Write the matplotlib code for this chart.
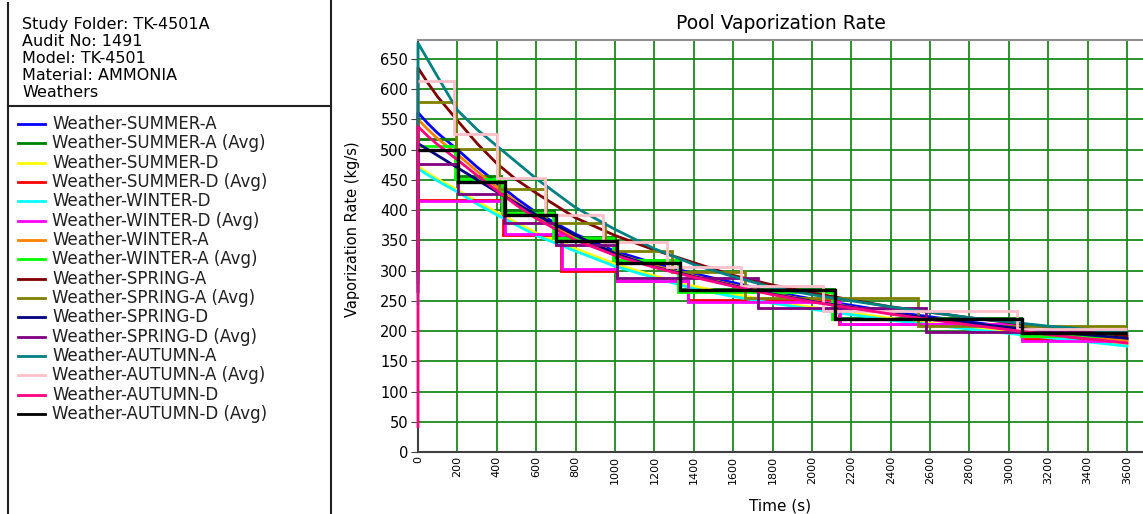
import matplotlib
matplotlib.use('Agg')
import matplotlib.pyplot as plt

plt.rcParams['font.family'] = 'DejaVu Sans'

# header of the side panel
header = ["Study Folder: TK-4501A", "Audit No: 1491", "Model: TK-4501",
          "Material: AMMONIA", "Weathers"]

labels = ["Weather-SUMMER-A", "Weather-SUMMER-A (Avg)",
          "Weather-SUMMER-D", "Weather-SUMMER-D (Avg)",
          "Weather-WINTER-D", "Weather-WINTER-D (Avg)",
          "Weather-WINTER-A", "Weather-WINTER-A (Avg)",
          "Weather-SPRING-A", "Weather-SPRING-A (Avg)",
          "Weather-SPRING-D", "Weather-SPRING-D (Avg)",
          "Weather-AUTUMN-A", "Weather-AUTUMN-A (Avg)",
          "Weather-AUTUMN-D", "Weather-AUTUMN-D (Avg)"]
colors = ['#0000FF', '#008000', '#FFFF00', '#FF0000', '#00FFFF', '#FF00FF',
          '#FF8000', '#00FF00', '#800000', '#808000', '#000080', '#800080',
          '#008080', '#FFC0CB', '#FF0080', '#000000']

# continuous curves (kg/s) read at these times (s)
curve_t = [0, 50, 100, 200, 300, 400, 500, 600, 800, 1000, 1200, 1400, 1600,
           1800, 2000, 2400, 2800, 3200, 3600]
summer_a = [561, 543, 527, 500, 471, 445, 419, 396, 360, 332, 312, 295, 280, 265, 253, 232, 215, 199, 186]
summer_d = [472, 461, 451, 433, 414, 396, 379, 362, 336, 311, 291, 274, 261, 249, 239, 221, 205, 191, 178]
winter_d = [468, 458, 448, 430, 410, 392, 375, 358, 332, 307, 288, 270, 257, 246, 236, 218, 203, 189, 175]
winter_a = [550, 533, 518, 492, 464, 438, 413, 390, 355, 328, 308, 291, 276, 262, 250, 229, 212, 197, 184]
spring_a = [635, 610, 587, 548, 510, 477, 450, 428, 387, 358, 334, 313, 292, 276, 263, 240, 222, 206, 192]
spring_d = [510, 500, 490, 470, 450, 430, 411, 392, 358, 328, 306, 290, 275, 261, 249, 229, 213, 199, 188]
autumn_a = [676, 648, 620, 565, 533, 506, 479, 452, 404, 368, 336, 310, 290, 272, 260, 240, 222, 208, 197]
autumn_d = [538, 522, 508, 483, 457, 432, 408, 386, 350, 325, 305, 289, 274, 260, 248, 228, 210, 194, 180]
# value at the very first instant (before the jump)
start_lo = {"Weather-SUMMER-A": 290, "Weather-SUMMER-D": 300, "Weather-WINTER-D": 245,
            "Weather-WINTER-A": 300, "Weather-SPRING-A": 300, "Weather-SPRING-D": 265,
            "Weather-AUTUMN-A": 280, "Weather-AUTUMN-D": 42}

# averaged (step) series: bin edges and bin values
summer_a_avg_t = [0, 195, 420, 690, 1000, 1330, 2110, 3060, 3600]
summer_a_avg = [518, 457, 400, 356, 318, 270, 222, 197]
summer_d_avg_t = [0, 430, 725, 1009, 1369, 2140, 3067, 3600]
summer_d_avg = [417, 358, 300, 283, 251, 212, 186]
winter_d_avg_t = [0, 440, 731, 1009, 1369, 2144, 3067, 3600]
winter_d_avg = [415, 360, 302, 283, 248, 211, 183]
winter_a_avg_t = [0, 190, 425, 683, 990, 1320, 2100, 3060, 3600]
winter_a_avg = [506, 452, 395, 354, 317, 265, 220, 192]
spring_a_avg_t = [0, 192, 413, 650, 950, 1290, 1660, 2540, 3600]
spring_a_avg = [579, 501, 434, 378, 333, 298, 254, 208]
spring_d_avg_t = [0, 205, 437, 700, 1012, 1727, 2578, 3600]
spring_d_avg = [476, 427, 378, 342, 287, 238, 199]
autumn_a_avg_t = [0, 183, 403, 647, 940, 1264, 1640, 2058, 3042, 3600]
autumn_a_avg = [613, 526, 453, 392, 347, 305, 274, 233, 203]
autumn_d_avg_t = [0, 205, 442, 700, 1009, 1330, 2118, 3067, 3600]
autumn_d_avg = [500, 446, 392, 348, 313, 267, 220, 196]

curves = {"Weather-SUMMER-A": summer_a, "Weather-SUMMER-D": summer_d,
          "Weather-WINTER-D": winter_d, "Weather-WINTER-A": winter_a,
          "Weather-SPRING-A": spring_a, "Weather-SPRING-D": spring_d,
          "Weather-AUTUMN-A": autumn_a, "Weather-AUTUMN-D": autumn_d}
avgs = {"Weather-SUMMER-A (Avg)": (summer_a_avg_t, summer_a_avg),
        "Weather-SUMMER-D (Avg)": (summer_d_avg_t, summer_d_avg),
        "Weather-WINTER-D (Avg)": (winter_d_avg_t, winter_d_avg),
        "Weather-WINTER-A (Avg)": (winter_a_avg_t, winter_a_avg),
        "Weather-SPRING-A (Avg)": (spring_a_avg_t, spring_a_avg),
        "Weather-SPRING-D (Avg)": (spring_d_avg_t, spring_d_avg),
        "Weather-AUTUMN-A (Avg)": (autumn_a_avg_t, autumn_a_avg),
        "Weather-AUTUMN-D (Avg)": (autumn_d_avg_t, autumn_d_avg)}

W, H = 1143, 514
fig = plt.figure(figsize=(W / 100, H / 100), dpi=100)
ax = fig.add_axes([418 / W, 1 - 452 / H, (W - 418) / W, (452 - 40) / H])

for lab, col in zip(labels, colors):
    if lab in curves:
        ax.plot([0] + curve_t, [start_lo[lab]] + curves[lab], color=col, lw=2,
                clip_on=False, zorder=3)
    else:
        edges, vals = avgs[lab]
        lw = 2.4 if col == '#000000' else 2
        ax.stairs(vals, edges, color=col, lw=lw, baseline=None, clip_on=False,
                  zorder=3)

ax.set_xlim(0, 3681)
ax.set_ylim(0, 681)
ax.set_xticks(range(0, 3601, 200))
ax.set_yticks(range(0, 651, 50))
ax.grid(True, color='#1a8a1a', lw=1.3)
ax.set_axisbelow(True)
ax.tick_params(axis='x', labelrotation=90, labelsize=8, length=0, pad=3)
ax.tick_params(axis='y', labelsize=10.5, length=5, pad=2, color='#404040')
for s in ['left', 'bottom']:
    ax.spines[s].set_color('#404040')
    ax.spines[s].set_linewidth(1.5)
ax.spines['top'].set_color('#909090')
ax.spines['top'].set_linewidth(1.5)
ax.spines['right'].set_visible(False)

ax.set_xlabel("Time (s)", fontsize=11)
ax.xaxis.set_label_coords(0.5, -0.112)
ax.set_ylabel("Vaporization Rate (kg/s)", fontsize=10.5)
ax.yaxis.set_label_coords(-0.08, 0.54)
ax.text(0.5, 1.039, "Pool Vaporization Rate", transform=ax.transAxes,
        ha='center', va='center', fontsize=13.5)

# side panel with header and legend
side = fig.add_axes([0, 0, 340 / W, 1])
side.set_xlim(0, 340)
side.set_ylim(H, 0)
side.axis('off')
side.plot([8, 8], [3, H], color='#202020', lw=1.5, clip_on=False)
side.plot([331, 331], [0, H], color='#202020', lw=1.5, clip_on=False)
side.plot([8, 331], [106, 106], color='#202020', lw=1.5)

for i, line in enumerate(header):
    side.text(22, 25 + i * 16.8, line, fontsize=11.5, va='center', ha='left')

for i, (lab, col) in enumerate(zip(labels, colors)):
    y = 124 + i * 19.33
    side.plot([18, 45], [y, y], color=col, lw=2)
    side.text(52, y, lab, fontsize=12, va='center', ha='left', color='#202020')

fig.savefig('out.png', dpi=100)
